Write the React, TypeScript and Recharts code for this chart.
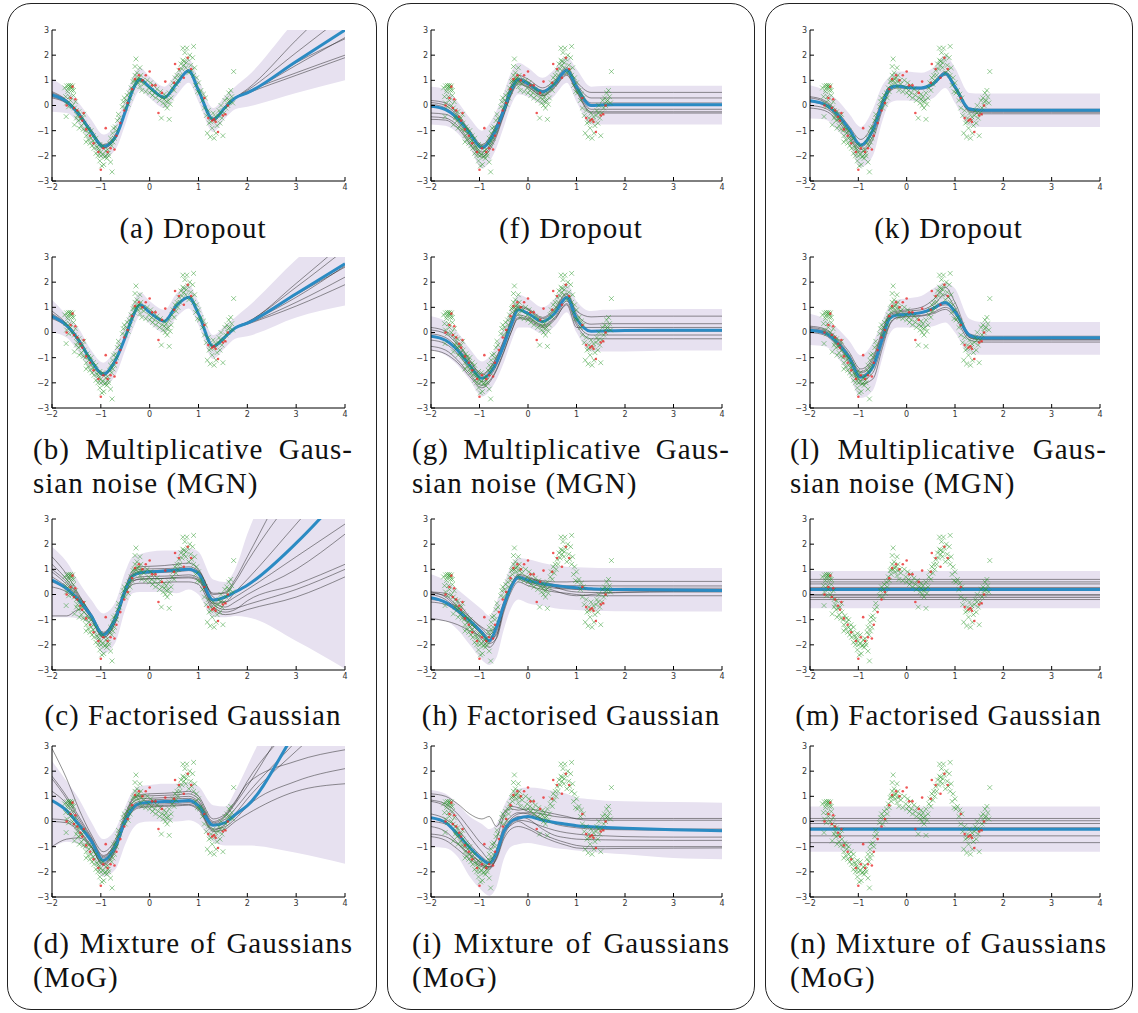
import { ComposedChart, Line, Area, Scatter, XAxis, YAxis } from "recharts";

// x grids the curves were read on
const XS_WAVE = [-2, -1.7, -1.45, -1.2, -0.95, -0.7, -0.5, -0.35, -0.2, 0, 0.3, 0.55, 0.8, 1.0, 1.3, 1.55, 1.75, 2, 3, 4];
const XS_DIP = [-2, -1.7, -1.45, -1.2, -0.95, -0.8, -0.65, -0.5, -0.35, -0.2, 0, 0.3, 0.55, 0.8, 1.0, 1.3, 1.6, 2, 3, 4];
const XS_FLAT = [-2, 4];

const X_TICKS = [-2, -1, 0, 1, 2, 3, 4];
const Y_TICKS = [-3, -2, -1, 0, 1, 2, 3];

// (a) Dropout
const MEAN_A = [0.42, 0.15, -0.35, -1.05, -1.63, -1.25, -0.25, 0.6, 1.03, 0.72, 0.32, 0.86, 1.38, 0.6, -0.55, -0.07, 0.3, 0.5, 1.75, 3.0];
const LO_A = [-0.25, -0.3, -0.75, -1.5, -2.1, -1.75, -0.75, 0.1, 0.6, 0.3, -0.1, 0.4, 0.9, 0.15, -1.05, -0.5, -0.15, -0.05, 0.5, 1.0];
const HI_A = [1.05, 0.65, 0.1, -0.55, -1.15, -0.75, 0.3, 1.1, 1.5, 1.15, 0.75, 1.3, 1.85, 1.05, -0.1, 0.4, 0.75, 1.15, 3.4, 5.2];
const SAMPLES_A = [
  [0.5, 0.2, -0.3, -1.0, -1.6, -1.2, -0.15, 0.65, 1.05, 0.75, 0.35, 0.9, 1.4, 0.62, -0.5, -0.02, 0.32, 0.55, 1.3, 2.0],
  [0.35, 0.1, -0.38, -1.1, -1.7, -1.3, -0.25, 0.55, 1.0, 0.7, 0.3, 0.82, 1.35, 0.55, -0.6, -0.1, 0.28, 0.5, 1.6, 2.7],
  [0.45, 0.18, -0.3, -0.95, -1.55, -1.15, -0.2, 0.62, 1.08, 0.74, 0.36, 0.88, 1.42, 0.65, -0.52, -0.05, 0.3, 0.6, 2.1, 3.6],
  [0.3, 0.08, -0.4, -1.08, -1.68, -1.28, -0.22, 0.58, 0.98, 0.68, 0.3, 0.84, 1.34, 0.58, -0.58, -0.1, 0.27, 0.48, 1.2, 1.9],
  [0.55, 0.22, -0.28, -1.02, -1.6, -1.22, -0.18, 0.6, 1.04, 0.73, 0.34, 0.87, 1.38, 0.6, -0.54, -0.06, 0.3, 0.65, 2.6, 4.5],
  [0.4, 0.12, -0.35, -1.05, -1.64, -1.25, -0.2, 0.6, 1.02, 0.71, 0.32, 0.85, 1.37, 0.6, -0.56, -0.08, 0.29, 0.5, 1.7, 2.65],
];

// (b) MGN
const MEAN_B = [0.64, 0.28, -0.32, -1.12, -1.66, -1.1, -0.19, 0.61, 1.1, 0.8, 0.45, 1.07, 1.4, 0.74, -0.55, -0.16, 0.18, 0.37, 1.54, 2.73];
const LO_B = [0.0, -0.2, -0.8, -1.55, -2.1, -1.7, -0.7, 0.1, 0.65, 0.35, 0.0, 0.6, 0.95, 0.3, -1.05, -0.6, -0.25, -0.15, 0.6, 1.07];
const HI_B = [1.3, 0.7, 0.15, -0.7, -1.2, -0.6, 0.35, 1.1, 1.6, 1.25, 0.9, 1.55, 1.9, 1.2, -0.1, 0.3, 0.6, 1.0, 2.9, 4.5];
const SAMPLES_B = [
  [0.7, 0.3, -0.3, -1.1, -1.65, -1.1, -0.2, 0.6, 1.1, 0.8, 0.45, 1.05, 1.4, 0.74, -0.55, -0.15, 0.18, 0.38, 1.4, 2.65],
  [0.85, 0.35, -0.25, -1.05, -1.6, -1.05, -0.15, 0.65, 1.12, 0.82, 0.47, 1.08, 1.42, 0.76, -0.53, -0.14, 0.2, 0.42, 1.8, 3.3],
  [0.55, 0.22, -0.38, -1.18, -1.72, -1.15, -0.22, 0.58, 1.08, 0.78, 0.43, 1.05, 1.38, 0.72, -0.57, -0.18, 0.17, 0.35, 1.2, 2.2],
  [0.6, 0.25, -0.35, -1.15, -1.7, -1.13, -0.2, 0.6, 1.1, 0.79, 0.44, 1.06, 1.39, 0.73, -0.56, -0.17, 0.16, 0.33, 1.05, 1.9],
  [0.75, 0.32, -0.28, -1.08, -1.62, -1.08, -0.17, 0.62, 1.11, 0.81, 0.46, 1.07, 1.41, 0.75, -0.54, -0.15, 0.19, 0.4, 1.95, 3.6],
  [0.65, 0.28, -0.32, -1.12, -1.67, -1.1, -0.19, 0.61, 1.1, 0.8, 0.45, 1.06, 1.4, 0.74, -0.55, -0.16, 0.18, 0.37, 1.5, 2.6],
];

// (c) Factorised Gaussian
const MEAN_C = [0.57, 0.23, -0.23, -0.84, -1.6, -0.95, 0.17, 0.73, 0.86, 0.9, 0.93, 0.97, 1.0, 0.83, -0.22, -0.1, 0.1, 0.37, 2.04, 4.1];
const LO_C = [-0.9, -0.9, -0.95, -1.3, -2.35, -1.9, -0.6, 0.05, 0.1, 0.1, 0.1, 0.05, 0.2, 0.0, -0.9, -0.9, -0.85, -0.9, -1.85, -2.95];
const HI_C = [1.9, 1.3, 0.5, -0.2, -0.75, -0.3, 0.9, 1.5, 1.6, 1.7, 1.75, 1.75, 1.85, 1.7, 0.6, 0.5, 1.0, 2.4, 6, 8];
const SAMPLES_C = [
  [1.5, 0.8, 0.0, -0.8, -1.55, -0.8, 0.3, 0.95, 1.1, 1.12, 1.15, 1.2, 1.25, 1.0, 0.05, 0.05, 0.5, 1.3, 4.0, 6.0],
  [0.9, 0.4, -0.15, -0.85, -1.6, -1.0, 0.1, 0.6, 0.7, 0.72, 0.73, 0.75, 0.78, 0.65, -0.35, -0.3, 0.1, 0.6, 2.8, 5.0],
  [-0.85, -0.85, -0.6, -1.0, -1.7, -1.1, 0.0, 0.5, 0.62, 0.63, 0.64, 0.65, 0.66, 0.55, -0.5, -0.7, -0.6, -0.25, 0.4, 1.2],
  [1.2, 0.6, -0.05, -0.75, -1.5, -0.85, 0.2, 0.8, 0.92, 0.95, 0.97, 1.0, 1.02, 0.9, -0.1, -0.3, -0.1, 0.2, 1.5, 2.8],
  [0.3, 0.1, -0.3, -0.95, -1.72, -1.1, 0.05, 0.4, 0.45, 0.45, 0.48, 0.5, 0.5, 0.4, -0.6, -0.8, -0.75, -0.6, -0.1, 0.7],
  [0.7, 0.3, -0.2, -0.9, -1.65, -0.95, 0.15, 0.7, 0.82, 0.85, 0.88, 0.9, 0.95, 0.8, -0.3, -0.5, -0.3, 0.0, 1.0, 2.4],
  [1.0, 0.5, -0.1, -0.8, -1.55, -0.9, 0.25, 0.85, 1.0, 1.02, 1.03, 1.05, 1.1, 0.95, 0.0, 0.1, 0.6, 1.5, 5.0, 7.0],
  [0.5, 0.2, -0.25, -0.88, -1.6, -1.0, 0.1, 0.55, 0.6, 0.62, 0.64, 0.68, 0.7, 0.6, -0.4, -0.6, -0.55, -0.4, 0.2, 1.0],
];

// (d) MoG
const MEAN_D = [0.83, 0.43, -0.13, -0.77, -1.55, -0.97, 0.03, 0.53, 0.72, 0.76, 0.79, 0.8, 0.83, 0.63, -0.15, -0.04, 0.27, 0.63, 3.6, 6.5];
const LO_D = [-1.05, -0.8, -0.9, -1.4, -2.2, -1.9, -0.9, -0.3, -0.05, 0.0, 0.0, 0.0, 0.05, -0.1, -0.8, -0.95, -0.95, -0.95, -1.24, -1.68];
const HI_D = [2.4, 1.6, 0.9, 0.0, -0.7, -0.3, 0.6, 1.2, 1.4, 1.45, 1.5, 1.5, 1.55, 1.4, 0.65, 0.6, 1.2, 2.2, 6, 8];
const SAMPLES_D = [
  [2.9, 1.7, 0.5, -0.5, -1.2, -0.7, 0.3, 0.9, 1.05, 1.1, 1.12, 1.15, 1.2, 1.0, 0.1, 0.3, 0.8, 1.5, 2.4, 2.85],
  [1.8, 1.0, 0.2, -0.6, -1.35, -0.85, 0.15, 0.75, 0.9, 0.92, 0.95, 0.97, 1.0, 0.8, -0.05, 0.2, 0.7, 1.4, 4.5, 7],
  [0.1, 0.05, -0.35, -0.95, -1.65, -1.05, 0.0, 0.5, 0.65, 0.68, 0.7, 0.72, 0.75, 0.55, -0.3, -0.2, 0.1, 0.6, 1.6, 2.1],
  [-1.0, -0.7, -0.65, -1.0, -1.75, -1.15, -0.1, 0.4, 0.55, 0.58, 0.6, 0.62, 0.65, 0.45, -0.4, -0.3, 0.0, 0.3, 1.2, 1.5],
  [1.2, 0.7, 0.0, -0.7, -1.45, -0.9, 0.1, 0.65, 0.8, 0.85, 0.88, 0.9, 0.92, 0.75, -0.1, 0.1, 0.5, 1.1, 3.2, 5.5],
  [0.0, -0.05, -0.4, -1.0, -1.7, -1.1, -0.05, 0.45, 0.6, 0.62, 0.64, 0.66, 0.68, 0.5, -0.35, -0.1, 0.3, 0.9, 2.8, 4.5],
  [1.7, 0.9, 0.1, -0.65, -1.4, -0.8, 0.2, 0.85, 1.0, 1.02, 1.04, 1.06, 1.1, 0.9, 0.0, 0.25, 0.75, 1.6, 4.0, 6.5],
];

// (f) Dropout
const MEAN_F = [-0.03, -0.16, -0.52, -1.11, -1.68, -1.11, -0.19, 0.61, 1.03, 0.87, 0.54, 0.87, 1.4, 0.74, 0.0, 0.02, 0.03, 0.03, 0.03, 0.03];
const LO_F = [-0.75, -0.8, -1.1, -1.7, -2.5, -1.9, -0.85, 0.0, 0.45, 0.35, 0.05, 0.4, 0.9, 0.15, -0.75, -0.75, -0.75, -0.75, -0.75, -0.75];
const HI_F = [0.75, 0.65, 0.15, -0.5, -1.0, -0.4, 0.5, 1.3, 1.7, 1.5, 1.1, 1.45, 1.95, 1.45, 0.75, 0.77, 0.78, 0.78, 0.78, 0.78];
const SAMPLES_F = [
  [0.2, 0.1, -0.35, -1.0, -1.55, -0.95, -0.05, 0.8, 1.2, 1.05, 0.7, 1.0, 1.5, 0.95, 0.52, 0.52, 0.52, 0.52, 0.52, 0.52],
  [0.12, 0.0, -0.42, -1.05, -1.6, -1.0, -0.1, 0.7, 1.1, 0.95, 0.6, 0.92, 1.45, 0.85, 0.3, 0.3, 0.3, 0.3, 0.3, 0.3],
  [-0.3, -0.35, -0.65, -1.25, -1.85, -1.25, -0.3, 0.5, 0.95, 0.8, 0.45, 0.8, 1.3, 0.65, -0.15, -0.15, -0.15, -0.15, -0.15, -0.15],
  [-0.45, -0.5, -0.8, -1.4, -1.95, -1.35, -0.35, 0.45, 0.9, 0.75, 0.4, 0.75, 1.25, 0.6, -0.25, -0.25, -0.25, -0.25, -0.25, -0.25],
  [-0.55, -0.58, -0.9, -1.5, -2.05, -1.45, -0.4, 0.4, 0.85, 0.72, 0.38, 0.72, 1.2, 0.55, -0.3, -0.3, -0.3, -0.3, -0.3, -0.3],
  [0.05, -0.1, -0.48, -1.1, -1.65, -1.05, -0.15, 0.65, 1.05, 0.9, 0.58, 0.9, 1.42, 0.78, 0.1, 0.1, 0.1, 0.1, 0.1, 0.1],
];

// (g) MGN
const MEAN_G = [-0.15, -0.31, -0.71, -1.31, -1.82, -1.37, -0.51, 0.29, 0.9, 0.76, 0.43, 0.76, 1.39, 0.56, 0.05, 0.06, 0.07, 0.08, 0.09, 0.09];
const LO_G = [-0.7, -0.9, -1.3, -1.9, -2.55, -2.05, -1.2, -0.4, 0.2, 0.2, -0.05, 0.25, 0.8, 0.0, -0.75, -0.75, -0.75, -0.75, -0.72, -0.72];
const HI_G = [0.65, 0.45, 0.0, -0.65, -1.15, -0.7, 0.2, 0.95, 1.5, 1.35, 1.0, 1.35, 1.95, 1.25, 0.85, 0.9, 0.9, 0.92, 0.93, 0.93];
const SAMPLES_G = [
  [0.2, 0.05, -0.4, -1.1, -1.65, -1.15, -0.3, 0.5, 1.05, 0.95, 0.6, 0.95, 1.55, 0.85, 0.62, 0.64, 0.65, 0.65, 0.65, 0.65],
  [0.1, -0.05, -0.5, -1.15, -1.7, -1.2, -0.35, 0.45, 1.0, 0.9, 0.55, 0.9, 1.5, 0.75, 0.33, 0.35, 0.35, 0.35, 0.35, 0.35],
  [-0.3, -0.45, -0.85, -1.45, -1.95, -1.5, -0.6, 0.15, 0.7, 0.6, 0.3, 0.6, 1.25, 0.4, -0.1, -0.1, -0.1, -0.1, -0.1, -0.1],
  [-0.55, -0.7, -1.1, -1.65, -2.1, -1.65, -0.75, 0.0, 0.55, 0.5, 0.2, 0.5, 1.15, 0.3, -0.25, -0.25, -0.25, -0.25, -0.25, -0.25],
  [-0.7, -0.85, -1.2, -1.75, -2.2, -1.7, -0.8, 0.0, 0.6, 0.55, 0.25, 0.55, 1.1, 0.2, 0.2, 0.2, 0.2, 0.2, 0.2, 0.2],
  [-0.05, -0.2, -0.6, -1.25, -1.8, -1.3, -0.45, 0.35, 0.9, 0.8, 0.45, 0.8, 1.42, 0.6, 0.05, 0.05, 0.05, 0.05, 0.05, 0.05],
];

// (h) Factorised Gaussian
const MEAN_H = [-0.13, -0.31, -0.64, -1.04, -1.51, -1.84, -1.3, -0.44, 0.29, 0.69, 0.56, 0.43, 0.36, 0.3, 0.27, 0.23, 0.21, 0.2, 0.18, 0.16];
const LO_H = [-1.0, -1.05, -1.4, -2.0, -2.6, -2.8, -2.5, -1.4, -0.55, -0.2, -0.35, -0.45, -0.55, -0.6, -0.62, -0.65, -0.66, -0.67, -0.68, -0.68];
const HI_H = [0.8, 0.55, 0.2, -0.2, -0.6, -0.85, -0.3, 0.4, 1.15, 1.45, 1.4, 1.25, 1.15, 1.1, 1.08, 1.06, 1.05, 1.05, 1.05, 1.05];
const SAMPLES_H = [
  [0.1, 0.05, -0.3, -0.9, -1.35, -1.6, -1.2, -0.3, 0.4, 0.75, 0.65, 0.55, 0.5, 0.5, 0.52, 0.53, 0.53, 0.52, 0.52, 0.52],
  [0.05, -0.05, -0.5, -1.1, -1.6, -1.9, -1.5, -0.5, 0.3, 0.6, 0.45, 0.3, 0.15, 0.0, -0.05, 0.0, 0.05, 0.08, 0.1, 0.1],
  [-0.3, -0.4, -0.7, -1.15, -1.55, -1.8, -1.6, -0.6, 0.2, 0.65, 0.6, 0.5, 0.4, 0.35, 0.35, 0.35, 0.34, 0.34, 0.34, 0.34],
  [-0.95, -1.05, -1.2, -1.45, -1.7, -1.95, -1.75, -0.7, 0.1, 0.5, 0.35, 0.2, 0.1, 0.05, 0.0, -0.05, -0.05, -0.05, -0.05, -0.05],
  [0.0, -0.2, -0.65, -1.25, -1.8, -2.1, -1.7, -0.55, 0.25, 0.7, 0.55, 0.35, 0.25, 0.22, 0.22, 0.23, 0.24, 0.25, 0.25, 0.25],
  [-0.2, -0.3, -0.5, -0.9, -1.3, -1.45, -1.25, -0.4, 0.35, 0.8, 0.7, 0.45, 0.3, 0.25, 0.2, 0.18, 0.17, 0.17, 0.17, 0.17],
  [0.1, -0.1, -0.55, -1.0, -1.45, -1.7, -1.35, -0.35, 0.3, 0.68, 0.5, 0.4, 0.3, 0.15, 0.1, 0.08, 0.08, 0.1, 0.12, 0.12],
];

// (i) MoG
const MEAN_I = [0.15, -0.04, -0.5, -1.04, -1.5, -1.67, -1.25, -0.4, 0.0, 0.13, 0.2, 0.05, -0.04, -0.11, -0.17, -0.21, -0.24, -0.27, -0.33, -0.37];
const LO_I = [-1.0, -1.05, -1.4, -2.2, -2.75, -2.95, -2.6, -1.5, -1.0, -0.9, -0.85, -0.95, -1.05, -1.1, -1.15, -1.2, -1.25, -1.3, -1.45, -1.5];
const HI_I = [1.25, 1.1, 0.7, 0.2, -0.1, -0.3, -0.1, 0.6, 1.1, 1.3, 1.35, 1.3, 1.2, 1.1, 0.95, 0.88, 0.82, 0.8, 0.77, 0.75];
const SAMPLES_I = [
  [1.1, 1.0, 0.7, 0.3, 0.1, 0.2, -0.2, 0.35, 0.6, 0.55, 0.4, 0.3, 0.2, 0.15, 0.12, 0.12, 0.12, 0.12, 0.12, 0.12],
  [0.85, 0.7, 0.3, -0.3, -0.9, -1.1, -0.7, 0.2, 0.5, 0.45, 0.5, 0.4, 0.3, 0.2, 0.1, 0.05, 0.05, 0.05, 0.05, 0.05],
  [0.8, 0.6, 0.1, -0.6, -1.2, -1.5, -1.2, -0.3, 0.1, 0.3, 0.35, 0.1, -0.1, -0.2, -0.25, -0.3, -0.32, -0.33, -0.35, -0.35],
  [0.0, -0.1, -0.6, -1.2, -1.7, -1.85, -1.4, -0.5, 0.0, 0.2, 0.1, -0.3, -0.55, -0.65, -0.7, -0.72, -0.73, -0.74, -0.75, -0.75],
  [-0.2, -0.4, -0.85, -1.35, -1.75, -1.8, -1.3, -0.45, -0.15, 0.0, -0.2, -0.5, -0.7, -0.85, -0.95, -1.0, -1.0, -1.0, -1.0, -1.0],
  [-0.5, -0.6, -0.9, -1.3, -1.65, -1.8, -1.5, -0.7, -0.3, -0.2, -0.3, -0.6, -0.8, -0.95, -1.05, -1.08, -1.08, -1.07, -1.06, -1.05],
  [-0.6, -0.75, -1.1, -1.5, -1.8, -1.9, -1.45, -0.6, -0.1, 0.05, 0.0, -0.2, -0.35, -0.45, -0.5, -0.55, -0.57, -0.6, -0.62, -0.62],
  [0.3, 0.1, -0.3, -0.9, -1.4, -1.6, -1.1, -0.2, 0.2, 0.35, 0.3, 0.1, -0.05, -0.15, -0.2, -0.25, -0.28, -0.3, -0.3, -0.3],
];

// (k) Dropout
const MEAN_K = [0.19, 0.05, -0.32, -0.91, -1.57, -0.98, 0.08, 0.68, 0.77, 0.72, 0.7, 0.87, 1.27, 0.74, -0.14, -0.19, -0.19, -0.19, -0.19, -0.19];
const LO_K = [-0.52, -0.55, -0.95, -1.5, -2.45, -2.0, -0.6, 0.1, 0.2, 0.2, 0.15, 0.3, 0.7, 0.1, -0.8, -0.85, -0.85, -0.85, -0.85, -0.85];
const HI_K = [0.8, 0.6, 0.25, -0.3, -0.85, -0.15, 0.8, 1.15, 1.35, 1.35, 1.3, 1.5, 2.0, 1.5, 0.5, 0.48, 0.48, 0.48, 0.48, 0.48];
const SAMPLES_K = [
  [0.35, 0.2, -0.2, -0.8, -1.35, -0.75, 0.25, 0.75, 0.8, 0.75, 0.72, 0.9, 1.35, 0.8, -0.1, -0.15, -0.15, -0.15, -0.15, -0.15],
  [0.3, 0.15, -0.3, -0.95, -1.55, -0.9, 0.15, 0.7, 0.8, 0.75, 0.7, 0.85, 1.3, 0.75, -0.15, -0.2, -0.2, -0.2, -0.2, -0.2],
  [0.0, -0.1, -0.45, -1.1, -1.75, -1.2, -0.05, 0.6, 0.75, 0.7, 0.68, 0.85, 1.25, 0.7, -0.2, -0.27, -0.27, -0.27, -0.27, -0.27],
  [-0.1, -0.2, -0.55, -1.2, -1.85, -1.35, -0.15, 0.55, 0.7, 0.68, 0.65, 0.8, 1.2, 0.65, -0.25, -0.33, -0.33, -0.33, -0.33, -0.33],
  [0.15, 0.0, -0.4, -1.0, -1.65, -1.05, 0.0, 0.65, 0.78, 0.72, 0.7, 0.88, 1.28, 0.72, -0.2, -0.23, -0.23, -0.23, -0.23, -0.23],
];

// (l) MGN
const MEAN_L = [0.09, -0.01, -0.37, -0.97, -1.78, -1.37, -0.24, 0.56, 0.69, 0.72, 0.79, 0.96, 1.19, 0.83, -0.11, -0.22, -0.22, -0.22, -0.21, -0.21];
const LO_L = [-0.5, -0.55, -0.95, -1.65, -2.6, -2.3, -1.0, -0.05, 0.2, 0.2, 0.2, 0.25, 0.4, 0.0, -0.85, -0.88, -0.88, -0.88, -0.88, -0.88];
const HI_L = [0.75, 0.55, 0.2, -0.3, -0.9, -0.4, 0.5, 1.1, 1.3, 1.35, 1.45, 1.75, 2.0, 1.75, 0.55, 0.42, 0.42, 0.42, 0.42, 0.42];
const SAMPLES_L = [
  [0.25, 0.15, -0.2, -0.75, -1.45, -1.0, 0.1, 0.75, 0.85, 0.9, 1.0, 1.3, 1.8, 1.2, -0.05, -0.15, -0.15, -0.15, -0.15, -0.15],
  [0.15, 0.05, -0.3, -0.9, -1.6, -1.2, -0.1, 0.65, 0.75, 0.78, 0.82, 0.95, 1.1, 0.9, -0.15, -0.25, -0.25, -0.25, -0.25, -0.25],
  [0.05, -0.05, -0.45, -1.05, -1.9, -1.6, -0.45, 0.35, 0.6, 0.65, 0.68, 0.8, 1.0, 0.75, -0.2, -0.3, -0.3, -0.3, -0.3, -0.3],
  [0.0, -0.1, -0.5, -1.15, -2.05, -1.85, -0.6, 0.3, 0.58, 0.62, 0.65, 0.75, 0.92, 0.6, -0.3, -0.38, -0.38, -0.38, -0.38, -0.38],
  [0.2, 0.1, -0.25, -0.85, -1.55, -1.1, 0.0, 0.7, 0.8, 0.85, 0.9, 1.1, 1.5, 1.0, -0.1, -0.2, -0.2, -0.2, -0.2, -0.2],
  [0.1, 0.0, -0.35, -0.95, -1.7, -1.3, -0.2, 0.55, 0.72, 0.75, 0.78, 0.9, 1.2, 0.85, -0.2, -0.27, -0.27, -0.27, -0.27, -0.27],
];

// (m) Factorised Gaussian, (n) MoG: constant predictions
const MEAN_M = [0.2, 0.2];
const LO_M = [-0.55, -0.55];
const HI_M = [0.93, 0.93];
const SAMPLES_M = [[0.6, 0.6], [0.5, 0.5], [0.42, 0.42], [0.28, 0.28], [0.0, 0.0], [-0.05, -0.05], [-0.12, -0.12], [-0.2, -0.2]];
const MEAN_N = [-0.31, -0.31];
const LO_N = [-1.2, -1.2];
const HI_N = [0.6, 0.6];
const SAMPLES_N = [[0.12, 0.12], [0.03, 0.03], [-0.08, -0.08], [-0.25, -0.25], [-0.57, -0.57], [-0.84, -0.84]];

// training data (same in every panel)
const GREEN_POINTS: [number, number][] = [
  [-1.74, 0.7], [-1.7, 0.78], [-1.68, 0.55], [-1.66, 0.8], [-1.64, 0.75], [-1.62, 0.8], [-1.6, 0.6], [-1.58, 0.78],
  [-1.72, 0.35], [-1.7, 0.1], [-1.66, -0.05], [-1.62, 0.2], [-1.58, 0.0], [-1.56, 0.4], [-1.54, -0.1], [-1.52, 0.15],
  [-1.5, -0.2], [-1.71, -0.44], [-1.54, -0.77], [-1.67, 0.65], [-1.6, 0.72], [-1.64, 0.35], [-1.56, 0.6],
  [-1.48, -0.4], [-1.46, -0.6], [-1.45, -0.25], [-1.42, -0.55], [-1.4, -0.8], [-1.38, -0.5], [-1.36, -0.95], [-1.34, -0.7],
  [-1.32, -1.0], [-1.3, -1.2], [-1.28, -0.85], [-1.26, -1.35], [-1.24, -1.1], [-1.22, -1.5], [-1.2, -1.3], [-1.18, -1.6],
  [-1.16, -1.4], [-1.14, -1.7], [-1.12, -1.5], [-1.1, -1.9], [-1.08, -1.65], [-1.06, -2.0], [-1.04, -1.8], [-1.02, -2.2],
  [-1.0, -2.0], [-0.98, -2.4], [-0.96, -1.95], [-1.5, -0.5], [-1.44, -0.9], [-1.3, -1.45], [-1.2, -1.0], [-1.1, -1.3],
  [-1.02, -1.55], [-1.25, -0.95], [-1.15, -1.2], [-1.05, -1.7], [-1.0, -1.85], [-1.35, -0.35],
  [-0.94, -2.35], [-0.92, -2.05], [-0.9, -1.8], [-0.88, -2.1], [-0.86, -1.75], [-0.84, -2.0], [-0.82, -1.5], [-0.8, -2.25],
  [-0.8, -1.3], [-0.78, -1.6], [-0.76, -1.1], [-0.74, -0.9], [-0.72, -1.3], [-0.7, -0.85], [-0.68, -1.0], [-0.66, -0.6],
  [-0.64, -0.35], [-0.62, -0.5], [-0.77, -2.64], [-0.96, -1.6], [-0.9, -2.0], [-0.85, -1.9], [-0.75, -1.45],
  [-0.56, -0.05], [-0.54, 0.15], [-0.52, 0.3], [-0.5, -0.1], [-0.48, 0.2], [-0.46, 0.4], [-0.44, 0.05], [-0.42, 0.5],
  [-0.4, 0.3], [-0.38, 0.7], [-0.36, 0.55], [-0.34, 0.95], [-0.32, 0.8], [-0.3, 1.2], [-0.3, 1.55], [-0.28, 1.85],
  [-0.28, 1.0], [-0.26, 1.3], [-0.24, 0.9], [-0.22, 1.1], [-0.2, 1.5], [-0.2, 0.75], [-0.18, 1.2], [-0.16, 0.6],
  [-0.14, 1.0], [-0.12, 0.85], [-0.25, 1.05], [-0.32, 1.0], [-0.18, 0.95],
  [-0.08, 0.55], [-0.05, 1.0], [-0.02, 0.7], [0.0, 0.5], [0.02, 0.9], [0.04, 0.6], [0.06, 0.4], [0.08, 0.8],
  [0.1, 0.5], [0.12, 0.3], [0.15, 0.65], [0.18, 0.4], [0.2, 0.2], [0.22, 0.55], [0.24, -0.5], [0.26, 0.3],
  [0.28, 0.1], [0.3, 0.45], [0.32, 0.0], [0.34, 0.35], [0.36, -0.1], [0.38, 0.2], [0.4, 0.5], [0.4, -0.55],
  [0.42, 0.05], [0.44, 0.3], [0.3, 0.25], [0.35, 0.15],
  [0.46, 0.7], [0.48, 0.9], [0.5, 0.6], [0.52, 1.1], [0.54, 0.85], [0.56, 1.2], [0.58, 1.0], [0.6, 1.4],
  [0.62, 1.2], [0.64, 1.65], [0.66, 1.45], [0.68, 1.8], [0.68, 2.28], [0.7, 1.6], [0.72, 2.1], [0.74, 1.5],
  [0.76, 2.28], [0.78, 1.85], [0.8, 1.3], [0.82, 2.0], [0.84, 1.6], [0.86, 1.4], [0.88, 1.9], [0.9, 2.35],
  [0.9, 1.2], [0.92, 1.5], [0.94, 0.8], [0.96, 1.1], [0.98, 0.55], [1.0, 0.9], [0.7, 1.75], [0.75, 1.7],
  [1.02, 0.5], [1.05, 0.6], [1.08, 0.2], [1.1, 0.45], [1.12, -0.1], [1.14, 0.3], [1.16, -0.4], [1.18, -1.1],
  [1.2, -0.2], [1.22, -0.7], [1.24, -1.25], [1.26, -0.5], [1.28, -0.9], [1.3, -0.3], [1.32, -1.3], [1.34, -0.6],
  [1.36, -1.1], [1.38, -0.8], [1.4, -0.4], [1.42, -0.2], [1.44, -0.7], [1.46, 0.0], [1.48, -0.5], [1.5, -1.2],
  [1.52, -0.3], [1.54, 0.2], [1.56, -0.1], [1.58, 0.3], [1.6, 0.0], [1.62, 0.5], [1.64, 0.2], [1.66, 0.6],
  [1.68, 0.35], [1.7, 0.1], [1.72, 1.35], [1.25, -0.65], [1.35, -0.45], [1.45, -0.3], [1.62, 0.15],
];
const RED_POINTS: [number, number][] = [
  [-1.7, 0.0], [-1.62, 0.3], [-1.58, 0.75], [-1.55, -0.1], [-1.52, 0.25], [-1.48, -0.2], [-1.42, -0.45], [-1.38, -0.6],
  [-1.35, -0.3], [-1.3, -0.95], [-1.22, -1.2], [-1.15, -1.5], [-1.05, -1.85], [-1.0, -2.55], [-0.95, -1.7], [-0.9, -0.9],
  [-0.86, -1.85], [-0.8, -1.7], [-0.72, -1.75], [-0.68, -1.2], [-0.6, -0.7], [-0.52, -0.2], [-0.45, 0.1], [-0.36, 0.65],
  [-0.3, 1.05], [-0.22, 1.2], [-0.15, 1.0], [-0.08, 1.2], [0.0, 1.35], [0.05, 0.8], [0.12, 0.8], [0.18, -0.3],
  [0.25, 0.5], [0.32, 0.95], [0.5, 0.9], [0.52, 1.65], [0.6, 1.45], [0.7, 1.1], [0.78, 1.9], [0.85, 1.45],
  [1.12, 0.3], [1.2, -0.5], [1.28, -0.6], [1.32, -0.55], [1.35, -0.65], [1.4, -1.05], [1.5, -0.4], [1.55, -0.35],
  [1.6, 0.0],
];

const CAPTIONS: Record<string, string[]> = {
  a: ["(a) Dropout"],
  b: ["(b) Multiplicative Gaus-", "sian noise (MGN)"],
  c: ["(c) Factorised Gaussian"],
  d: ["(d) Mixture of Gaussians", "(MoG)"],
  f: ["(f) Dropout"],
  g: ["(g) Multiplicative Gaus-", "sian noise (MGN)"],
  h: ["(h) Factorised Gaussian"],
  i: ["(i) Mixture of Gaussians", "(MoG)"],
  k: ["(k) Dropout"],
  l: ["(l) Multiplicative Gaus-", "sian noise (MGN)"],
  m: ["(m) Factorised Gaussian"],
  n: ["(n) Mixture of Gaussians", "(MoG)"],
};

const PANELS = [
  { id: "a", col: 0, row: 0, xs: XS_WAVE, mean: MEAN_A, lo: LO_A, hi: HI_A, samples: SAMPLES_A },
  { id: "b", col: 0, row: 1, xs: XS_WAVE, mean: MEAN_B, lo: LO_B, hi: HI_B, samples: SAMPLES_B },
  { id: "c", col: 0, row: 2, xs: XS_WAVE, mean: MEAN_C, lo: LO_C, hi: HI_C, samples: SAMPLES_C },
  { id: "d", col: 0, row: 3, xs: XS_WAVE, mean: MEAN_D, lo: LO_D, hi: HI_D, samples: SAMPLES_D },
  { id: "f", col: 1, row: 0, xs: XS_WAVE, mean: MEAN_F, lo: LO_F, hi: HI_F, samples: SAMPLES_F },
  { id: "g", col: 1, row: 1, xs: XS_WAVE, mean: MEAN_G, lo: LO_G, hi: HI_G, samples: SAMPLES_G },
  { id: "h", col: 1, row: 2, xs: XS_DIP, mean: MEAN_H, lo: LO_H, hi: HI_H, samples: SAMPLES_H },
  { id: "i", col: 1, row: 3, xs: XS_DIP, mean: MEAN_I, lo: LO_I, hi: HI_I, samples: SAMPLES_I },
  { id: "k", col: 2, row: 0, xs: XS_WAVE, mean: MEAN_K, lo: LO_K, hi: HI_K, samples: SAMPLES_K },
  { id: "l", col: 2, row: 1, xs: XS_WAVE, mean: MEAN_L, lo: LO_L, hi: HI_L, samples: SAMPLES_L },
  { id: "m", col: 2, row: 2, xs: XS_FLAT, mean: MEAN_M, lo: LO_M, hi: HI_M, samples: SAMPLES_M },
  { id: "n", col: 2, row: 3, xs: XS_FLAT, mean: MEAN_N, lo: LO_N, hi: HI_N, samples: SAMPLES_N },
];

// layout (page pixels)
const BOXES = [
  { left: 7, width: 370 },
  { left: 387, width: 368 },
  { left: 765, width: 368 },
];
const PLOT_LEFT = [52, 431, 810];
const PLOT_WIDTH = [293, 291, 290];
const PLOT_TOP = [30, 257, 519, 746];
const PLOT_HEIGHT = 151;
const TEXT_AREA = [
  [33, 353],
  [412, 730],
  [790, 1107],
];
const CAPTION_TOP = [211, 432, 698, 926];

const Y_AXIS_W = 22;
const X_AXIS_H = 16;
const M_TOP = 6;
const M_RIGHT = 6;

const fmt = (v: number) => (v < 0 ? `\u2212${-v}` : `${v}`);
const tickStyle = { fontSize: 8, fill: "#333", fontFamily: "DejaVu Sans, sans-serif" };

function Cross(props: any) {
  const { cx, cy } = props;
  if (cx == null || cy == null) return <g />;
  const s = 2.4;
  return (
    <path
      d={`M${cx - s},${cy - s}L${cx + s},${cy + s}M${cx - s},${cy + s}L${cx + s},${cy - s}`}
      stroke="rgba(40,150,40,0.55)"
      strokeWidth={0.9}
      fill="none"
    />
  );
}

function RedDot(props: any) {
  const { cx, cy } = props;
  if (cx == null || cy == null) return <g />;
  return <circle cx={cx} cy={cy} r={1.3} fill="rgba(235,45,45,0.8)" />;
}

function Subplot({ p }: { p: (typeof PANELS)[number] }) {
  const w = PLOT_WIDTH[p.col];
  const left = PLOT_LEFT[p.col] - Y_AXIS_W;
  const top = PLOT_TOP[p.row] - M_TOP;
  const band = p.xs.map((x, i) => ({ x, band: [p.lo[i], p.hi[i]] }));
  const mean = p.xs.map((x, i) => ({ x, y: p.mean[i] }));
  const samples = p.samples.map((s) => p.xs.map((x, i) => ({ x, y: s[i] })));
  const green = GREEN_POINTS.map(([x, y]) => ({ x, y }));
  const red = RED_POINTS.map(([x, y]) => ({ x, y }));
  const ax = { xAxisId: "b", yAxisId: "l" };

  return (
    <div style={{ position: "absolute", left, top }}>
      <ComposedChart
        width={w + Y_AXIS_W + M_RIGHT}
        height={PLOT_HEIGHT + M_TOP + X_AXIS_H}
        margin={{ top: M_TOP, right: M_RIGHT, left: 0, bottom: 0 }}
      >
        <XAxis
          xAxisId="b"
          type="number"
          dataKey="x"
          domain={[-2, 4]}
          ticks={X_TICKS}
          allowDataOverflow
          height={X_AXIS_H}
          tickSize={-4}
          tickMargin={7}
          interval={0}
          tickFormatter={fmt}
          tick={tickStyle}
          stroke="#000"
        />
        <XAxis
          xAxisId="t"
          orientation="top"
          type="number"
          dataKey="x"
          domain={[-2, 4]}
          ticks={X_TICKS}
          allowDataOverflow
          height={0}
          tickSize={-4}
          tick={false}
          stroke="#000"
        />
        <YAxis
          yAxisId="l"
          type="number"
          domain={[-3, 3]}
          ticks={Y_TICKS}
          allowDataOverflow
          width={Y_AXIS_W}
          tickSize={-4}
          tickMargin={7}
          interval={0}
          tickFormatter={fmt}
          tick={tickStyle}
          stroke="#000"
        />
        <YAxis
          yAxisId="r"
          orientation="right"
          type="number"
          domain={[-3, 3]}
          ticks={Y_TICKS}
          allowDataOverflow
          width={0}
          tickSize={-4}
          tick={false}
          stroke="#000"
        />
        <Area
          {...ax}
          data={band}
          dataKey="band"
          type="monotone"
          stroke="none"
          fill="#e7e1f0"
          fillOpacity={1}
          isAnimationActive={false}
        />
        <Scatter {...ax} data={green} dataKey="y" shape={Cross} isAnimationActive={false} />
        <Scatter {...ax} data={red} dataKey="y" shape={RedDot} isAnimationActive={false} />
        {samples.map((d, k) => (
          <Line
            key={k}
            {...ax}
            data={d}
            dataKey="y"
            type="monotone"
            dot={false}
            stroke="rgba(40,40,40,0.5)"
            strokeWidth={1}
            isAnimationActive={false}
          />
        ))}
        <Line
          {...ax}
          data={mean}
          dataKey="y"
          type="monotone"
          dot={false}
          stroke="#2b8bc3"
          strokeWidth={3}
          isAnimationActive={false}
        />
      </ComposedChart>
    </div>
  );
}

function Caption({ id, col, row }: { id: string; col: number; row: number }) {
  const [l, r] = TEXT_AREA[col];
  const lines = CAPTIONS[id];
  const base = {
    fontFamily: "'Liberation Serif', serif",
    fontSize: 29,
    letterSpacing: 1.0,
    lineHeight: "34px",
    color: "#111",
    whiteSpace: "nowrap" as const,
  };
  return (
    <div style={{ position: "absolute", left: l, top: CAPTION_TOP[row], width: r - l }}>
      {lines.length === 1 ? (
        <div style={{ ...base, textAlign: "center" }}>{lines[0]}</div>
      ) : (
        <>
          <div style={{ ...base, whiteSpace: "normal", textAlign: "justify", textAlignLast: "justify" }}>{lines[0]}</div>
          <div style={{ ...base }}>{lines[1]}</div>
        </>
      )}
    </div>
  );
}

export default function App() {
  return (
    <div style={{ position: "absolute", left: 0, top: 0, width: 1138, height: 1013, background: "#fff", overflow: "hidden" }}>
      {BOXES.map((b, i) => (
        <div
          key={i}
          style={{
            position: "absolute",
            left: b.left,
            top: 3,
            width: b.width,
            height: 1007,
            boxSizing: "border-box",
            border: "1.5px solid #222",
            borderRadius: 24,
          }}
        />
      ))}
      {PANELS.map((p) => (
        <Subplot key={p.id} p={p} />
      ))}
      {PANELS.map((p) => (
        <Caption key={p.id} id={p.id} col={p.col} row={p.row} />
      ))}
    </div>
  );
}
